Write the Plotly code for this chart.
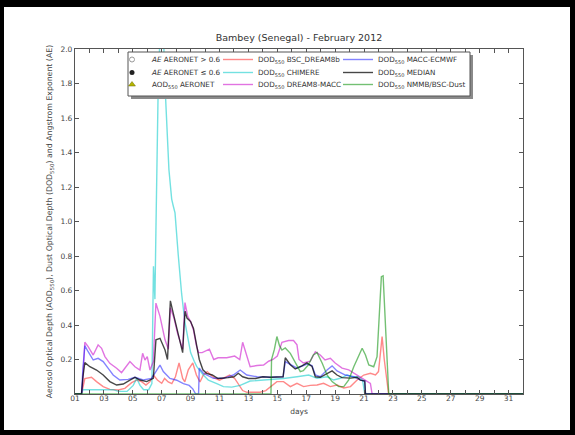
import plotly.graph_objects as go

# ---------------- data ----------------
title_text = "Bambey (Senegal) - February 2012"
x_title = "days"
y_title = ("Aerosol Optical Depth (AOD<sub>550</sub>), Dust Optical Depth (DOD<sub>550</sub>) "
           "and Angstrom Exponent (AE)")

x_tick_days = [1, 3, 5, 7, 9, 11, 13, 15, 17, 19, 21, 23, 25, 27, 29, 31]
x_tick_labels = ["01", "03", "05", "07", "09", "11", "13", "15", "17", "19",
                 "21", "23", "25", "27", "29", "31"]
x_minor_days = [2, 4, 6, 8, 10, 12, 14, 16, 18, 20, 22, 24, 26, 28, 30]
y_tick_vals = [0.2, 0.4, 0.6, 0.8, 1.0, 1.2, 1.4, 1.6, 1.8, 2.0]
y_tick_labels = ["0.2", "0.4", "0.6", "0.8", "1.0", "1.2", "1.4", "1.6", "1.8", "2.0"]

# DOD550 BSC_DREAM8b (red)
bsc_days = [1.0, 1.45, 1.68, 2.14, 2.49, 2.95, 3.41, 3.99, 4.45, 4.92, 5.27, 5.61, 5.91,
            6.19, 6.42, 6.7, 7.0, 7.2, 7.45, 7.7, 7.95, 8.2, 8.45, 8.6, 8.84, 9.15, 9.4,
            9.65, 9.88, 10.15, 10.4, 10.7, 11.0, 11.4, 11.7, 12.05, 12.3, 12.6, 12.9, 13.3,
            13.8, 14.2, 14.5, 14.97, 15.43, 15.9, 16.36, 16.82, 17.28, 17.75, 18.2, 18.67,
            19.13, 19.6, 20.06, 20.52, 20.98, 21.44, 21.79, 22.0, 22.15, 22.25, 22.4, 22.55,
            22.7, 32.0]
bsc_dod = [0.0, 0.0, 0.09, 0.097, 0.072, 0.043, 0.027, 0.023, 0.033, 0.066, 0.081, 0.072,
           0.052, 0.072, 0.11, 0.081, 0.062, 0.09, 0.07, 0.06, 0.1, 0.18, 0.09, 0.07, 0.14,
           0.18, 0.11, 0.07, 0.11, 0.13, 0.11, 0.09, 0.08, 0.1, 0.11, 0.09, 0.06, 0.02, 0.01,
           0.01, 0.01, 0.02, 0.04, 0.072, 0.072, 0.043, 0.062, 0.043, 0.05, 0.052, 0.062,
           0.043, 0.052, 0.035, 0.043, 0.081, 0.11, 0.12, 0.11, 0.13, 0.25, 0.333, 0.2, 0.1,
           0.0, 0.0]

# DOD550 CHIMERE (cyan)
chimere_days = [1.0, 1.45, 1.55, 2.5, 3.64, 4.0, 4.6, 5.03, 5.27, 5.5, 5.75, 6.1, 6.32,
                6.43, 6.53, 6.6, 6.7, 6.77, 6.85, 7.0, 7.15, 7.25, 7.5, 7.69, 7.8, 7.92,
                8.15, 8.38, 8.6, 8.8, 9.0, 9.25, 9.42, 9.88, 10.23, 10.81, 11.27, 11.85,
                12.43, 13.12, 13.8, 14.5, 15.43, 16.36, 17.17, 17.75, 18.44, 18.9, 19.36,
                19.83, 20.17, 20.6, 20.9, 21.05, 32.0]
chimere_dod = [0.0, 0.0, 0.025, 0.025, 0.025, 0.015, 0.015, 0.05, 0.09, 0.05, 0.025, 0.025,
               0.06, 0.74, 0.55, 0.95, 1.5, 1.85, 2.0, 2.15, 2.0, 1.75, 1.3, 1.13, 1.09, 1.05,
               0.8, 0.58, 0.42, 0.32, 0.24, 0.19, 0.16, 0.11, 0.08, 0.06, 0.043, 0.04, 0.05,
               0.075, 0.08, 0.082, 0.09, 0.1, 0.11, 0.091, 0.1, 0.081, 0.091, 0.11, 0.1, 0.1,
               0.08, 0.0, 0.0]

# DOD550 DREAM8-MACC (magenta)
dream_days = [1.0, 1.45, 1.52, 1.68, 1.91, 2.26, 2.6, 2.84, 3.07, 3.41, 3.88, 4.22, 4.45,
              4.8, 5.15, 5.49, 5.68, 5.84, 6.0, 6.19, 6.42, 6.6, 6.88, 7.23, 7.46, 7.6, 7.85,
              8.1, 8.45, 8.61, 8.8, 9.0, 9.2, 9.4, 9.55, 9.8, 10.3, 10.6, 10.9, 11.5, 12.05,
              12.4, 12.6, 12.95, 13.12, 13.6, 14.05, 14.4, 14.7, 15.0, 15.32, 15.78, 16.12,
              16.36, 16.5, 16.8, 17.28, 17.63, 17.97, 18.3, 18.67, 19.0, 19.48, 19.94, 20.52,
              21.1, 21.44, 21.56, 32.0]
dream_dod = [0.0, 0.0, 0.05, 0.3, 0.275, 0.226, 0.285, 0.265, 0.217, 0.178, 0.149, 0.124,
             0.149, 0.188, 0.158, 0.139, 0.236, 0.197, 0.217, 0.139, 0.188, 0.527, 0.45,
             0.314, 0.26, 0.5, 0.44, 0.35, 0.26, 0.53, 0.45, 0.42, 0.37, 0.28, 0.24, 0.24,
             0.26, 0.2, 0.21, 0.21, 0.22, 0.2, 0.3, 0.2, 0.158, 0.165, 0.168, 0.19, 0.2, 0.22,
             0.3, 0.31, 0.31, 0.285, 0.2, 0.18, 0.19, 0.245, 0.226, 0.197, 0.207, 0.18, 0.15,
             0.14, 0.11, 0.08, 0.062, 0.0, 0.0]

# DOD550 MACC-ECMWF (blue)
macc_days = [1.0, 1.45, 1.55, 1.68, 1.91, 2.26, 2.6, 2.95, 3.3, 3.64, 4.1, 4.68, 5.15,
             5.72, 6.3, 6.7, 6.88, 7.11, 7.57, 8.04, 8.5, 8.9, 9.15, 9.35, 9.55, 9.6, 9.88,
             10.58, 11.27, 11.96, 12.43, 12.89, 13.59, 14.5, 15.4, 15.55, 15.9, 16.36, 17.05,
             17.4, 17.63, 17.97, 18.44, 18.79, 19.13, 19.71, 20.29, 20.75, 21.05, 21.1, 32.0]
macc_dod = [0.0, 0.0, 0.15, 0.28, 0.245, 0.197, 0.207, 0.188, 0.149, 0.11, 0.081, 0.085,
            0.097, 0.081, 0.09, 0.139, 0.168, 0.13, 0.09, 0.08, 0.06, 0.05, 0.03, 0.0, 0.0,
            0.15, 0.12, 0.091, 0.091, 0.11, 0.139, 0.11, 0.1, 0.097, 0.1, 0.188, 0.17, 0.15,
            0.174, 0.165, 0.11, 0.1, 0.139, 0.163, 0.134, 0.11, 0.1, 0.08, 0.075, 0.0, 0.0]

# DOD550 MEDIAN (black)
median_days = [1.0, 1.45, 1.55, 1.68, 2.03, 2.49, 2.95, 3.41, 3.88, 4.34, 4.8, 5.15, 5.5,
               5.96, 6.42, 6.52, 6.6, 6.88, 7.23, 7.4, 7.5, 7.6, 7.85, 8.1, 8.3, 8.45, 8.55,
               8.62, 8.75, 9.0, 9.2, 9.4, 9.6, 9.85, 10.1, 10.5, 10.9, 11.6, 12.0, 12.3, 12.6,
               13.0, 13.5, 14.0, 14.52, 15.4, 15.55, 15.9, 16.24, 16.7, 17.05, 17.4, 17.63,
               17.97, 18.44, 18.79, 19.13, 19.48, 20.06, 20.52, 20.75, 21.05, 21.1, 32.0]
median_dod = [0.0, 0.0, 0.1, 0.182, 0.158, 0.139, 0.11, 0.072, 0.052, 0.058, 0.081, 0.097,
              0.081, 0.072, 0.091, 0.2, 0.314, 0.323, 0.255, 0.2, 0.38, 0.54, 0.45, 0.36,
              0.28, 0.24, 0.4, 0.48, 0.44, 0.42, 0.38, 0.3, 0.2, 0.14, 0.12, 0.11, 0.09, 0.095,
              0.1, 0.12, 0.1, 0.09, 0.09, 0.1, 0.097, 0.1, 0.21, 0.17, 0.145, 0.163, 0.18,
              0.16, 0.1, 0.097, 0.12, 0.134, 0.11, 0.095, 0.092, 0.097, 0.08, 0.075, 0.0, 0.0]

# DOD550 NMMB/BSC-Dust (green)
nmmb_days = [1.0, 14.56, 14.6, 14.8, 14.97, 15.15, 15.32, 15.55, 15.9, 16.24, 16.59, 16.8,
             17.14, 17.49, 17.75, 18.1, 18.44, 18.79, 19.25, 19.6, 19.94, 20.29, 20.63,
             20.87, 21.1, 21.33, 21.67, 21.9, 22.09, 22.2, 22.32, 22.48, 22.6, 22.71, 32.0]
nmmb_dod = [0.0, 0.0, 0.2, 0.26, 0.333, 0.28, 0.255, 0.267, 0.236, 0.18, 0.13, 0.135, 0.168,
            0.226, 0.24, 0.18, 0.11, 0.072, 0.043, 0.043, 0.081, 0.158, 0.226, 0.265, 0.226,
            0.168, 0.158, 0.216, 0.51, 0.68, 0.685, 0.43, 0.255, 0.0, 0.0]

# ---------------- figure ----------------
W, H = 575, 435
L, R, T, B = 75, 52, 49, 41
pw, ph = W - L - R, H - T - B


def px_x(p):
    return (p - L) / pw


def px_y(p):
    return (H - B - p) / ph


# legend grid (matplotlib-like 3x3 key): text left edges per column, row centres
leg_col_text_x = [152, 258, 378]
leg_row_y = [59, 72, 84]

fig = go.Figure()

# AERONET legend-only entries (no observations this month)
aeronet_entries = [
    ("<i>AE</i> AERONET > 0.6",
     dict(symbol="circle", size=5, color="white", line=dict(color="#999999", width=1))),
    ("<i>AE</i> AERONET ≤ 0.6",
     dict(symbol="circle", size=5, color="#222222")),
    ("AOD<sub>550</sub> AERONET",
     dict(symbol="triangle-up", size=6, color="#b5b500", line=dict(color="#6b6b00", width=0.5))),
]

series = [
    ("DOD<sub>550</sub> BSC_DREAM8b", bsc_days, bsc_dod, "rgba(255,40,40,0.55)"),
    ("DOD<sub>550</sub> CHIMERE", chimere_days, chimere_dod, "rgba(0,200,200,0.55)"),
    ("DOD<sub>550</sub> DREAM8-MACC", dream_days, dream_dod, "rgba(200,0,200,0.55)"),
    ("DOD<sub>550</sub> MACC-ECMWF", macc_days, macc_dod, "rgba(30,30,255,0.55)"),
    ("DOD<sub>550</sub> MEDIAN", median_days, median_dod, "rgba(0,0,0,0.72)"),
    ("DOD<sub>550</sub> NMMB/BSC-Dust", nmmb_days, nmmb_dod, "rgba(0,140,0,0.55)"),
]

legend_layouts = {}
legend_common = dict(orientation="v", xanchor="left", yanchor="top",
                     bgcolor="rgba(0,0,0,0)", borderwidth=0, tracegroupgap=0,
                     font=dict(size=7.2, color="#333333"))


def legend_slot(k, row, col):
    key = "legend" if k == 1 else f"legend{k}"
    legend_layouts[key] = dict(x=px_x(leg_col_text_x[col] - 40),
                               y=px_y(leg_row_y[row] - 14), **legend_common)
    return key


k = 1
for i, (name, mk) in enumerate(aeronet_entries):
    key = legend_slot(k, i, 0)
    fig.add_trace(go.Scatter(x=[None], y=[None], mode="markers", legend=key,
                             name=name, marker=mk))
    k += 1

for j, (name, xs, ys, col) in enumerate(series):
    key = legend_slot(k, j % 3, 1 + j // 3)
    fig.add_trace(go.Scatter(x=xs, y=ys, mode="lines", name=name, legend=key,
                             line=dict(color=col, width=1.4)))
    k += 1

# white figure canvas on black page
fig.add_shape(type="rect", xref="paper", yref="paper", layer="below",
              x0=px_x(4), x1=px_x(570), y0=px_y(430), y1=px_y(7),
              fillcolor="white", line=dict(width=0))

# legend frame (matplotlib style box with shadow), legends drawn on top of it
box_l, box_r, box_t, box_b = 128, 470, 52, 96
fig.add_shape(type="rect", xref="paper", yref="paper", layer="above",
              x0=px_x(box_l + 3), x1=px_x(box_r + 3), y0=px_y(box_b + 3), y1=px_y(box_t + 3),
              fillcolor="#8a8a8a", line=dict(width=0))
fig.add_shape(type="rect", xref="paper", yref="paper", layer="above",
              x0=px_x(box_l), x1=px_x(box_r), y0=px_y(box_b), y1=px_y(box_t),
              fillcolor="white", line=dict(color="#555555", width=1))

axis_col = "#555555"
fig.update_layout(
    width=W, height=H,
    margin=dict(l=L, r=R, t=T, b=B),
    paper_bgcolor="black", plot_bgcolor="white",
    font=dict(family="DejaVu Sans", size=7.5, color="#444444"),
    title=dict(text=title_text, x=0.5, xref="paper", xanchor="center",
               y=1 - 38 / H, yref="container", yanchor="middle",
               font=dict(size=9.5, color="#333333")),
    showlegend=True,
    xaxis=dict(range=[1, 32], tickmode="array", tickvals=x_tick_days,
               ticktext=x_tick_labels, ticklabelstandoff=-3,
               ticks="inside", ticklen=4, tickcolor=axis_col, showgrid=False,
               minor=dict(tickmode="array", tickvals=x_minor_days, ticks="inside",
                          ticklen=4, tickcolor=axis_col, showgrid=False),
               zeroline=False, showline=True, linecolor=axis_col, linewidth=1.2,
               mirror="ticks", title=dict(text=x_title, standoff=6,
                                          font=dict(size=7.5, color="#444444"))),
    yaxis=dict(range=[0, 2.0], tickmode="array", tickvals=y_tick_vals,
               ticktext=y_tick_labels, ticks="inside", ticklen=4, tickcolor=axis_col,
               showgrid=False, zeroline=False, showline=True, linecolor=axis_col,
               linewidth=1.2, mirror="ticks",
               title=dict(text=y_title, standoff=6, font=dict(size=7.8, color="#444444"))),
    **legend_layouts,
)

fig.write_html(
    "out.html",
    config={"displayModeBar": False},
    post_script="document.body.style.margin='0';document.body.style.background='black';"
                "document.body.style.overflow='hidden';",
)
